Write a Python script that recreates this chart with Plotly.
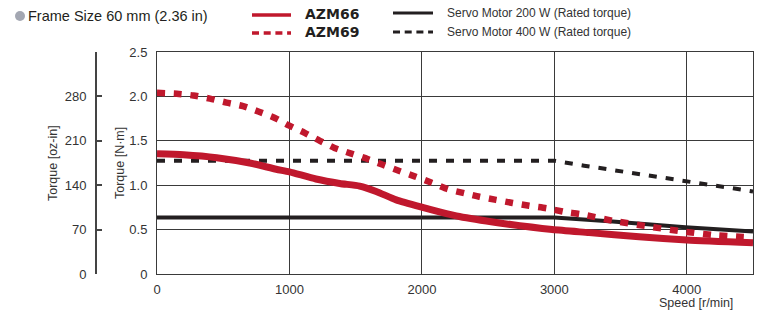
import plotly.graph_objects as go

# ---- data ----
speed_azm66 = [0, 200, 450, 700, 900, 1000, 1200, 1380, 1530, 1655, 1806, 2005, 2133, 2283, 2585, 2984, 3263, 3640, 4000, 4500]
torque_azm66 = [1.355, 1.343, 1.31, 1.25, 1.18, 1.15, 1.07, 1.02, 0.99, 0.93, 0.835, 0.75, 0.70, 0.647, 0.575, 0.50, 0.466, 0.42, 0.384, 0.352]

speed_azm69 = [0, 150, 275, 400, 525, 650, 765, 890, 1000, 1115, 1230, 1340, 1467, 1590, 1705, 1830, 1945,
               2070, 2195, 2320, 2435, 2560, 2685, 2810, 2945, 3075, 3200, 3440, 3690, 3940, 4190, 4500]
torque_azm69 = [2.04, 2.03, 2.01, 1.975, 1.93, 1.89, 1.83, 1.757, 1.67, 1.59, 1.50, 1.42, 1.355, 1.295, 1.23, 1.16, 1.10,
                1.03, 0.955, 0.91, 0.87, 0.835, 0.80, 0.768, 0.74, 0.70, 0.673, 0.60, 0.54, 0.485, 0.44, 0.41]

speed_servo200 = [0, 3000, 3440, 3740, 3990, 4500]
torque_servo200 = [0.637, 0.637, 0.59, 0.553, 0.527, 0.48]

speed_servo400 = [0, 3000, 3225, 3490, 3740, 3990, 4240, 4500]
torque_servo400 = [1.275, 1.275, 1.22, 1.16, 1.10, 1.04, 0.985, 0.93]

nm_ticks = [0, 0.5, 1.0, 1.5, 2.0, 2.5]
nm_ticktext = ["0", "0.5", "1.0", "1.5", "2.0", "2.5"]
ozin_ticks = [0, 70, 140, 210, 280]
speed_ticks = [0, 1000, 2000, 3000, 4000]

series_names = ["AZM66", "AZM69", "Servo Motor 200 W (Rated torque)", "Servo Motor 400 W (Rated torque)"]
title_text = "Frame Size 60 mm (2.36 in)"

# ---- style ----
RED = "#c0182d"
BLACK = "#231f20"
GRID = "#3a3a3a"
TXT = "#333333"
FONT = "Liberation Sans, Arial, sans-serif"
BOLDFONT = "DejaVu Sans, Verdana, sans-serif"

W, H = 760, 314
L, R, T, B = 90, 7, 52, 40
PW, PH = W - L - R, H - T - B


def px(xp):
    return (xp - L) / PW


def py(yp):
    return (H - B - yp) / PH


fig = go.Figure()
fig.add_trace(go.Scatter(x=speed_servo200, y=torque_servo200, mode="lines", name=series_names[2],
                         line=dict(color=BLACK, width=4), showlegend=False))
fig.add_trace(go.Scatter(x=speed_servo400, y=torque_servo400, mode="lines", name=series_names[3],
                         line=dict(color=BLACK, width=4, dash="8px,9px"), showlegend=False))
fig.add_trace(go.Scatter(x=speed_azm69, y=torque_azm69, mode="lines", name=series_names[1],
                         line=dict(color=RED, width=6.5, dash="8px,8.7px", shape="spline", smoothing=0.6),
                         showlegend=False))
fig.add_trace(go.Scatter(x=speed_azm66, y=torque_azm66, mode="lines", name=series_names[0],
                         line=dict(color=RED, width=7, shape="spline", smoothing=0.6), showlegend=False))
# invisible trace to carry secondary axis
fig.add_trace(go.Scatter(x=[None], y=[None], yaxis="y2", showlegend=False, hoverinfo="skip"))

fig.update_layout(
    width=W, height=H,
    margin=dict(l=L, r=R, t=T, b=B, pad=0),
    paper_bgcolor="white", plot_bgcolor="white",
    font=dict(family=FONT, size=13, color=TXT),
    xaxis=dict(domain=[px(157), 1], range=[0, 4500], tickvals=speed_ticks,
               showgrid=True, gridcolor=GRID, gridwidth=1, zeroline=False,
               showline=True, mirror=True, linecolor=GRID, linewidth=1,
               ticks="", ticklabelstandoff=3, tickfont=dict(size=13, color=TXT)),
    yaxis=dict(range=[0, 2.5], tickvals=nm_ticks, ticktext=nm_ticktext,
               showgrid=True, gridcolor=GRID, gridwidth=1, zeroline=False,
               showline=True, mirror=True, linecolor=GRID, linewidth=1,
               ticks="", ticklabelstandoff=6, tickfont=dict(size=13, color=TXT)),
    yaxis2=dict(range=[0, 350], tickvals=ozin_ticks, overlaying="y", anchor="free",
                position=px(96), side="left", showgrid=False, zeroline=False,
                showline=True, linecolor="#444444", linewidth=2,
                ticks="inside", ticklen=5, tickwidth=1.5, tickcolor="#444444",
                ticklabelstandoff=6, tickfont=dict(size=13, color=TXT)),
)

ann = []
ann.append(dict(text="Torque [oz-in]", x=px(53), y=0.5, xref="paper", yref="paper", textangle=-90,
                showarrow=False, font=dict(size=12.5, color=TXT), xanchor="center", yanchor="middle"))
ann.append(dict(text="Torque [N·m]", x=px(120), y=0.5, xref="paper", yref="paper", textangle=-90,
                showarrow=False, font=dict(size=12.5, color=TXT), xanchor="center", yanchor="middle"))
ann.append(dict(text="Speed [r/min]", x=px(735), y=py(303), xref="paper", yref="paper",
                showarrow=False, font=dict(size=12.5, color=TXT), xanchor="right", yanchor="middle"))
ann.append(dict(text=title_text, x=px(26), y=py(16), xref="paper", yref="paper",
                showarrow=False, font=dict(size=14.5, color=BLACK), xanchor="left", yanchor="middle"))
# legend texts
ann.append(dict(text="<b>" + series_names[0] + "</b>", x=px(303), y=py(14), xref="paper", yref="paper",
                showarrow=False, font=dict(family=BOLDFONT, size=14, color=BLACK), xanchor="left", yanchor="middle"))
ann.append(dict(text="<b>" + series_names[1] + "</b>", x=px(303), y=py(32), xref="paper", yref="paper",
                showarrow=False, font=dict(family=BOLDFONT, size=14, color=BLACK), xanchor="left", yanchor="middle"))
ann.append(dict(text=series_names[2], x=px(445), y=py(13), xref="paper", yref="paper",
                showarrow=False, font=dict(size=12, color=TXT), xanchor="left", yanchor="middle"))
ann.append(dict(text=series_names[3], x=px(445), y=py(32), xref="paper", yref="paper",
                showarrow=False, font=dict(size=12, color=TXT), xanchor="left", yanchor="middle"))
fig.update_layout(annotations=ann)

shapes = []
shapes.append(dict(type="circle", xref="paper", yref="paper", x0=px(15), x1=px(25), y0=py(21), y1=py(11),
                   fillcolor="#a3a7b2", line=dict(width=0)))
shapes.append(dict(type="line", xref="paper", yref="paper", x0=px(252), x1=px(291), y0=py(15), y1=py(15),
                   line=dict(color=RED, width=3.3)))
shapes.append(dict(type="line", xref="paper", yref="paper", x0=px(252), x1=px(291), y0=py(33), y1=py(33),
                   line=dict(color=RED, width=3.3, dash="7px,4.7px")))
shapes.append(dict(type="line", xref="paper", yref="paper", x0=px(393), x1=px(433), y0=py(13), y1=py(13),
                   line=dict(color=BLACK, width=3)))
shapes.append(dict(type="line", xref="paper", yref="paper", x0=px(393), x1=px(433), y0=py(32), y1=py(32),
                   line=dict(color=BLACK, width=3, dash="7px,4.7px")))
fig.update_layout(shapes=shapes)

fig.write_html("out.html", config={"displayModeBar": False},
               post_script="document.body.style.margin='0';document.body.style.overflow='hidden';")
